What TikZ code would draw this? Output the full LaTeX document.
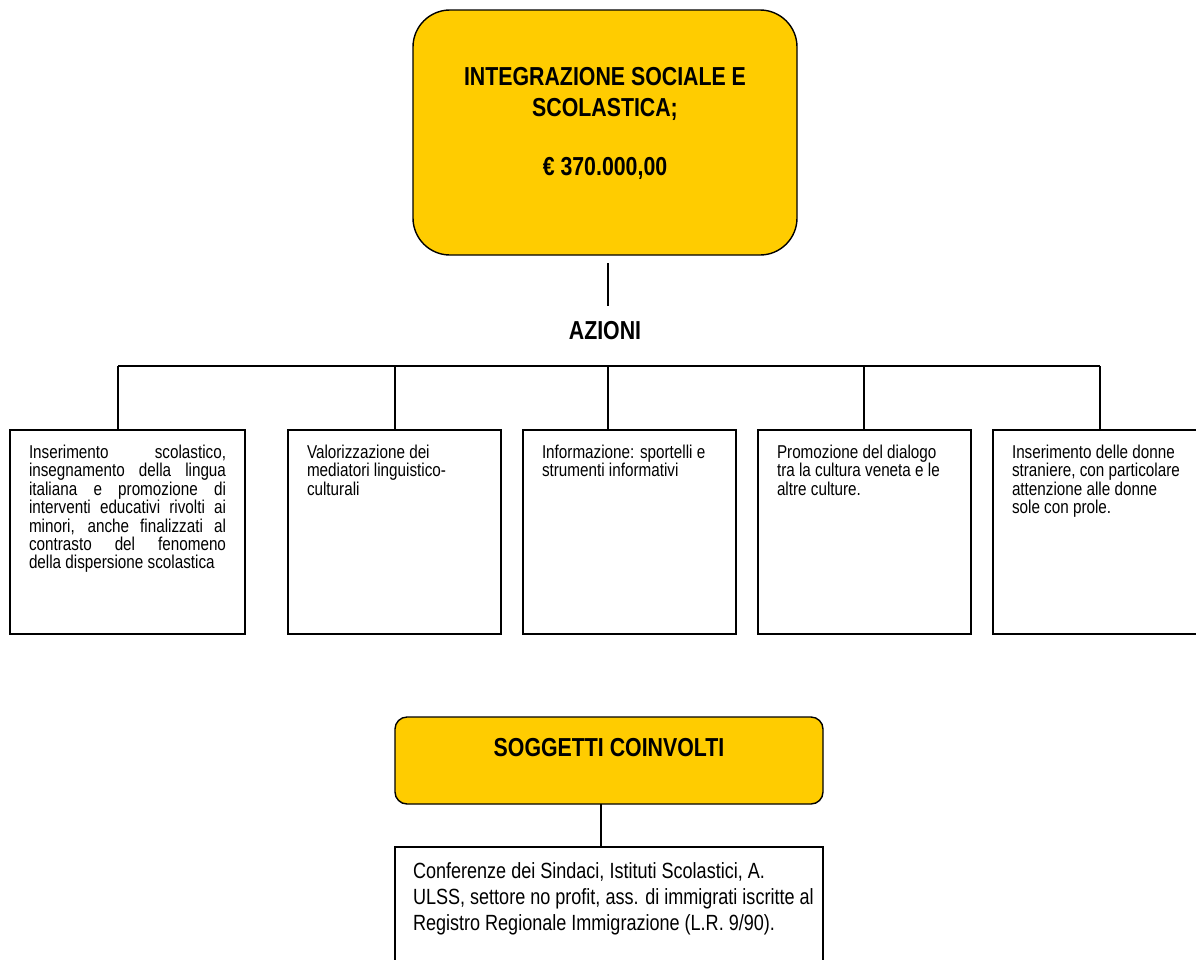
\documentclass[tikz,border=0pt]{standalone}
\usepackage{fontspec}
\setmainfont{Liberation Sans}[FakeStretch=0.82]
\usetikzlibrary{positioning}
\definecolor{giallo}{HTML}{FFCC00}
\tikzset{
  titolo/.style={
    rectangle,
    rounded corners=37pt,
    fill=giallo,
    draw=black, line width=1.4pt,
    inner sep=0pt, outer sep=0pt,
    anchor=north west,
    font=\fontsize{26}{31}\selectfont\bfseries},
  azione/.style={
    rectangle,
    draw=black, line width=1.4pt,
    inner xsep=19pt, inner ysep=15pt, outer sep=0pt,
    anchor=north west,
    font=\fontsize{18.6}{18.4}\selectfont},
  elenco/.style={
    rectangle,
    draw=black, line width=1.4pt,
    inner xsep=18pt, inner ysep=16pt, outer sep=0pt,
    anchor=north west,
    font=\fontsize{22}{26}\selectfont},
  etichetta/.style={inner sep=0pt, font=\fontsize{26}{31}\selectfont\bfseries},
  linea/.style={draw, line width=1.2pt},
}
\newcommand{\riquadro}[3]{\parbox[c][#1][t]{#2}{#3}}

\begin{document}
\begin{tikzpicture}[x=1pt, y=-1pt, node distance=22pt]
     \useasboundingbox (0,0) rectangle (1196,959);
     \node[titolo] (Integrazione) at (413,10)
          {\riquadro{245pt}{384pt}{\centering\vspace*{57pt}INTEGRAZIONE SOCIALE E\\ SCOLASTICA;\\[28pt] € 370.000,00}};
     \node[etichetta] (Azioni) at (605,331) {AZIONI};
     % azioni
     \node[azione] (Azione1) at (10,430)
          {\riquadro{174pt}{197pt}{Inserimento scolastico,\linebreak insegnamento della lingua\linebreak italiana e promozione di\linebreak interventi educativi rivolti ai\linebreak minori, anche finalizzati al\linebreak contrasto del fenomeno\linebreak della dispersione scolastica}};
     \node[azione, right=43pt of Azione1] (Azione2)
          {\riquadro{174pt}{175pt}{\raggedright Valorizzazione dei\\ mediatori linguistico-\\ culturali}};
     \node[azione, right=of Azione2] (Azione3)
          {\riquadro{174pt}{175pt}{\raggedright Informazione: sportelli e\\ strumenti informativi}};
     \node[azione, right=of Azione3] (Azione4)
          {\riquadro{174pt}{175pt}{\raggedright Promozione del dialogo\\ tra la cultura veneta e le\\ altre culture.}};
     \node[azione, right=of Azione4] (Azione5)
          {\riquadro{174pt}{175pt}{\raggedright Inserimento delle donne\\ straniere, con particolare\\ attenzione alle donne\\ sole con prole.}};
     % soggetti
     \node[titolo, rounded corners=12pt] (Soggetti) at (395,717)
          {\riquadro{87pt}{428pt}{\centering\vspace*{21pt}SOGGETTI COINVOLTI}};
     \node[elenco] (Elenco) at (395,847)
          {\riquadro{110pt}{392pt}{\mbox{Conferenze dei Sindaci, Istituti Scolastici, A.}\\ \mbox{ULSS, settore no profit, ass. di immigrati iscritte al}\\ \mbox{Registro Regionale Immigrazione (L.R. 9/90).}}};
     % collegamenti
     \draw[linea, shorten <=8pt, shorten >=16pt] ([xshift=3pt]Integrazione.south) -- ([xshift=3pt]Azioni.north);
     \foreach \i/\x in {1/118, 2/395, 3/608, 4/864, 5/1100}
        \coordinate (Nodo\i) at (\x,366);
     \draw[linea] (Nodo1) -- (Nodo5);
     \foreach \i in {1,...,5}
        \draw[linea] (Nodo\i) -- (Nodo\i |- Azione\i.north);
     \draw[linea] ([xshift=-8pt]Soggetti.south) -- ([xshift=-8pt]Elenco.north);
\end{tikzpicture}
\end{document}
